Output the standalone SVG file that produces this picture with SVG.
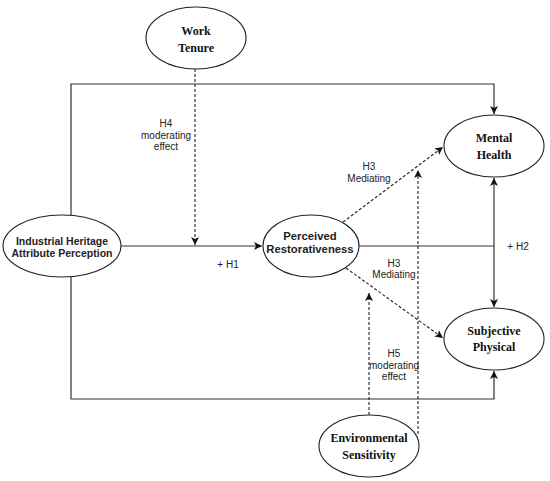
<svg xmlns="http://www.w3.org/2000/svg" width="550" height="481" viewBox="0 0 550 481">
<style>
.node ellipse{fill:#fff;stroke:#222;stroke-width:1.1}
.serif{font-family:"Liberation Serif","Times New Roman",serif;font-weight:bold;font-size:12px;fill:#111;text-anchor:middle}
.sans{font-family:"Liberation Sans",Arial,sans-serif;font-weight:bold;fill:#222;text-anchor:middle}
.lbl{font-family:"Liberation Sans",Arial,sans-serif;font-size:10px;fill:#222;text-anchor:middle}
.solid{fill:none;stroke:#333;stroke-width:1.2}
.dash{fill:none;stroke:#222;stroke-width:1.1;stroke-dasharray:3,2}
</style>
<defs>
<marker id="ah" viewBox="0 0 10 10" refX="10" refY="5" markerWidth="8" markerHeight="8" markerUnits="userSpaceOnUse" orient="auto-start-reverse">
<path d="M0,0 L10,5 L0,10 L2.5,5 Z" fill="#111"/>
</marker>
</defs>
<g id="connectors">
<polyline class="solid" points="71,215 71,84 494,84 494,114" marker-end="url(#ah)"/>
<polyline class="solid" points="71,277 71,399 494,399 494,371" marker-end="url(#ah)"/>
<line class="solid" x1="121" y1="246" x2="262" y2="246" marker-end="url(#ah)"/>
<line class="solid" x1="359" y1="246" x2="494" y2="246"/>
<line class="solid" x1="494" y1="178" x2="494" y2="307" marker-start="url(#ah)" marker-end="url(#ah)"/>
<line class="dash" x1="195" y1="69" x2="195" y2="245" marker-end="url(#ah)"/>
<line class="dash" x1="343" y1="222" x2="443" y2="147" marker-end="url(#ah)"/>
<line class="dash" x1="346" y1="268" x2="443" y2="338" marker-end="url(#ah)"/>
<line class="dash" x1="369" y1="415" x2="369" y2="293" marker-end="url(#ah)"/>
<line class="dash" x1="418" y1="434" x2="418" y2="170" marker-end="url(#ah)"/>
</g>
<g id="labels">
<text class="lbl" x="166" y="127">H4</text>
<text class="lbl" x="166" y="139">moderating</text>
<text class="lbl" x="166" y="150">effect</text>
<text class="lbl" x="228" y="268">+ H1</text>
<text class="lbl" x="518" y="250">+ H2</text>
<text class="lbl" x="369" y="170">H3</text>
<text class="lbl" x="369" y="182">Mediating</text>
<text class="lbl" x="394" y="267">H3</text>
<text class="lbl" x="394" y="278">Mediating</text>
<text class="lbl" x="394" y="357">H5</text>
<text class="lbl" x="394" y="369">moderating</text>
<text class="lbl" x="394" y="380">effect</text>
</g>
<g id="work-tenure" class="node">
<ellipse cx="196" cy="38" rx="50" ry="31"/>
<text class="serif" x="196" y="35">Work</text>
<text class="serif" x="196" y="52">Tenure</text>
</g>
<g id="industrial-heritage" class="node">
<ellipse cx="62" cy="246" rx="59" ry="31"/>
<text class="sans" font-size="10.5" x="62" y="245">Industrial Heritage</text>
<text class="sans" font-size="10.5" x="62" y="257">Attribute Perception</text>
</g>
<g id="perceived-restorativeness" class="node">
<ellipse cx="311" cy="246" rx="48" ry="31"/>
<text class="sans" font-size="11.3" x="310" y="240">Perceived</text>
<text class="sans" font-size="11.3" x="310" y="253">Restorativeness</text>
</g>
<g id="mental-health" class="node">
<ellipse cx="494" cy="146" rx="50" ry="31"/>
<text class="serif" x="494" y="142">Mental</text>
<text class="serif" x="494" y="159">Health</text>
</g>
<g id="subjective-physical" class="node">
<ellipse cx="494" cy="339" rx="50" ry="31"/>
<text class="serif" x="494" y="335">Subjective</text>
<text class="serif" x="494" y="351">Physical</text>
</g>
<g id="environmental-sensitivity" class="node">
<ellipse cx="369" cy="446" rx="50" ry="31"/>
<text class="serif" x="369" y="442">Environmental</text>
<text class="serif" x="369" y="459">Sensitivity</text>
</g>
</svg>
